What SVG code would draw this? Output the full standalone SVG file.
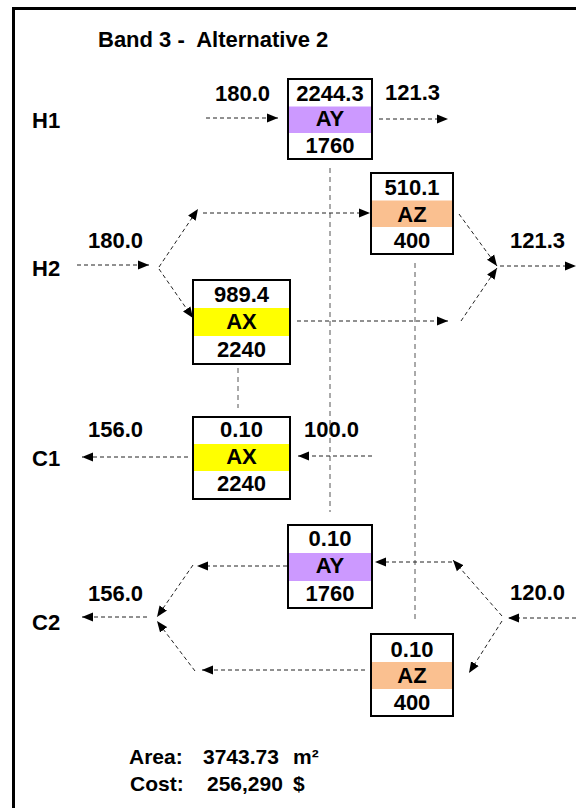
<svg xmlns="http://www.w3.org/2000/svg" width="576" height="808" viewBox="0 0 576 808">
<defs>
<style>
text{font-family:"Liberation Sans",Arial,sans-serif;font-weight:bold;font-size:22px;fill:#000;white-space:pre}
.c{text-anchor:middle}
.s{font-size:21px}
.box{fill:#fff;stroke:#000;stroke-width:2}
.ay{fill:#CC99FF}
.az{fill:#FAC090}
.ax{fill:#FFFF00}
.fa{stroke:#222;stroke-width:1;stroke-dasharray:4 3;fill:none;marker-end:url(#ah)}
.v{stroke:#555;stroke-width:1;stroke-dasharray:5 4;fill:none}
</style>
<marker id="ah" markerWidth="12" markerHeight="10" refX="11" refY="5" orient="auto" markerUnits="userSpaceOnUse">
<path d="M0,0.5 L11,5 L0,9.5 z" fill="#000"/>
</marker>
</defs>
<rect x="13.5" y="8.5" width="600" height="820" fill="#fff" stroke="#000" stroke-width="3"/>
<text x="98" y="47" xml:space="preserve">Band 3 -  Alternative 2</text>
<g id="labels">
<text x="32" y="128">H1</text>
<text x="32" y="276">H2</text>
<text x="32" y="466">C1</text>
<text x="32" y="630">C2</text>
<text x="215" y="101">180.0</text>
<text x="385" y="100">121.3</text>
<text x="88" y="248">180.0</text>
<text x="510" y="248">121.3</text>
<text x="88" y="437">156.0</text>
<text x="304" y="437">100.0</text>
<text x="88" y="601">156.0</text>
<text x="510" y="600">120.0</text>
</g>
<g id="connectors">
<line class="v" x1="330" y1="168" x2="330" y2="512"/>
<line class="v" x1="415" y1="263" x2="415" y2="622"/>
<line class="v" x1="238" y1="368" x2="238" y2="408"/>
<line class="fa" x1="206" y1="118" x2="278" y2="118"/>
<line class="fa" x1="379" y1="119" x2="448" y2="119"/>
<line class="fa" x1="77" y1="265" x2="149" y2="265"/>
<line class="fa" x1="159" y1="267" x2="198" y2="209"/>
<line class="fa" x1="203" y1="213" x2="370" y2="213"/>
<line class="fa" x1="159" y1="269" x2="193" y2="318"/>
<line class="fa" x1="297" y1="321" x2="448" y2="321"/>
<line class="fa" x1="459" y1="214" x2="497" y2="266"/>
<line class="fa" x1="461" y1="321" x2="497" y2="268"/>
<line class="fa" x1="500" y1="266" x2="576" y2="266"/>
<line class="fa" x1="188" y1="457" x2="82" y2="457"/>
<line class="fa" x1="372" y1="456" x2="298" y2="456"/>
<line class="fa" x1="287" y1="566" x2="197" y2="566"/>
<line class="fa" x1="193" y1="565" x2="157" y2="617"/>
<line class="fa" x1="147" y1="617" x2="82" y2="617"/>
<line class="fa" x1="365" y1="670" x2="202" y2="670"/>
<line class="fa" x1="195" y1="671" x2="157" y2="621"/>
<line class="fa" x1="576" y1="618" x2="508" y2="618"/>
<line class="fa" x1="502" y1="616" x2="453" y2="560"/>
<line class="fa" x1="452" y1="562" x2="375" y2="562"/>
<line class="fa" x1="502" y1="621" x2="469" y2="673"/>
</g>
<g id="h1-ay">
<rect class="box" x="288" y="79" width="84" height="80"/>
<rect class="ay" x="289" y="106.5" width="82" height="26.5"/>
<text class="c" x="330" y="101">2244.3</text>
<text class="c" x="330" y="126">AY</text>
<text class="c" x="330" y="153">1760</text>
</g>
<g id="h2-az">
<rect class="box" x="371" y="173" width="82" height="81"/>
<rect class="az" x="372" y="200.5" width="80" height="26.5"/>
<text class="c" x="412" y="195">510.1</text>
<text class="c" x="412" y="222">AZ</text>
<text class="c" x="412" y="248">400</text>
</g>
<g id="h2-ax">
<rect class="box" x="193" y="280" width="97" height="84"/>
<rect class="ax" x="194" y="308" width="95" height="28"/>
<text class="c" x="241.5" y="302">989.4</text>
<text class="c" x="241.5" y="329">AX</text>
<text class="c" x="241.5" y="357">2240</text>
</g>
<g id="c1-ax">
<rect class="box" x="193" y="417" width="97" height="82"/>
<rect class="ax" x="194" y="444" width="95" height="27"/>
<text class="c" x="241.5" y="437">0.10</text>
<text class="c" x="241.5" y="464">AX</text>
<text class="c" x="241.5" y="491">2240</text>
</g>
<g id="c2-ay">
<rect class="box" x="288" y="525" width="84" height="83"/>
<rect class="ay" x="289" y="553" width="82" height="28"/>
<text class="c" x="330" y="546">0.10</text>
<text class="c" x="330" y="573">AY</text>
<text class="c" x="330" y="601">1760</text>
</g>
<g id="c2-az">
<rect class="box" x="371" y="634" width="82" height="82"/>
<rect class="az" x="372" y="662" width="80" height="27"/>
<text class="c" x="412" y="657">0.10</text>
<text class="c" x="412" y="683">AZ</text>
<text class="c" x="412" y="710">400</text>
</g>
<g id="summary">
<text class="s" x="129" y="764">Area:</text>
<text class="s" x="203" y="764">3743.73</text>
<text class="s" x="293" y="764">m²</text>
<text class="s" x="130" y="791">Cost:</text>
<text class="s" x="207" y="791">256,290</text>
<text class="s" x="293" y="791">$</text>
</g>
</svg>
